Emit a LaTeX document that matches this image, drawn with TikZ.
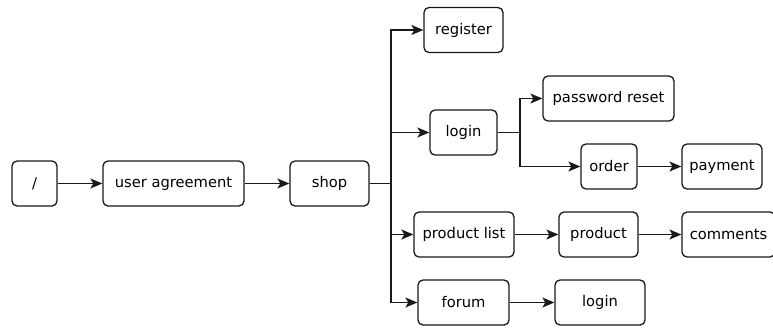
\documentclass[tikz,border=0pt]{standalone}
\usepackage{fontspec}
\setmainfont{DejaVu Sans}
\usetikzlibrary{arrows.meta}
\begin{document}
\begin{tikzpicture}[x=1pt,y=-1pt,
  box/.style={draw=black!90, line width=1.3pt, rounded corners=5pt, fill=white,
    minimum height=45pt, inner sep=0pt, font=\fontsize{14.7}{17}\selectfont},
  tip/.tip={Stealth[length=12pt,width=10pt,inset=3pt]},
  link/.style={draw=black!90, line width=1.3pt, -tip}]
\useasboundingbox (0,0) rectangle (773,327);
% nodes
\node[box, minimum width=45pt]  (root)   at (34.5,183.5) {/};
\node[box, minimum width=141pt] (agree)  at (173.5,183.5) {user agreement};
\node[box, minimum width=79pt]  (shop)   at (329.5,183.5) {shop};
\node[box, minimum width=79pt]  (reg)    at (463.5,30) {register};
\node[box, minimum width=67pt]  (login)  at (463.5,132.5) {login};
\node[box, minimum width=131pt] (reset)  at (608.5,98.5) {password reset};
\node[box, minimum width=56pt]  (order)  at (609,166.5) {order};
\node[box, minimum width=80pt]  (pay)    at (722,166.5) {payment};
\node[box, minimum width=100pt] (plist)  at (464,234.5) {product list};
\node[box, minimum width=79pt]  (prod)   at (598.5,234.5) {product};
\node[box, minimum width=93pt]  (comm)   at (728.5,234.5) {comments};
\node[box, minimum width=91pt]  (forum)  at (463.5,302.5) {forum};
\node[box, minimum width=90pt]  (flogin) at (600,302.5) {login};
% branch points
\coordinate (bus) at (391,183.5);
\coordinate (lbus) at (520,132.5);
% connectors
\draw[link] (root) -- (agree);
\draw[link] (agree) -- (shop);
\foreach \t in {reg,login,plist,forum}
  \draw[link] (shop.east) -- (bus) |- (\t.west);
\foreach \t in {reset,order}
  \draw[link] (login.east) -- (lbus) |- (\t.west);
\draw[link] (order) -- (pay);
\draw[link] (plist) -- (prod);
\draw[link] (prod) -- (comm);
\draw[link] (forum) -- (flogin);
\end{tikzpicture}
\end{document}
